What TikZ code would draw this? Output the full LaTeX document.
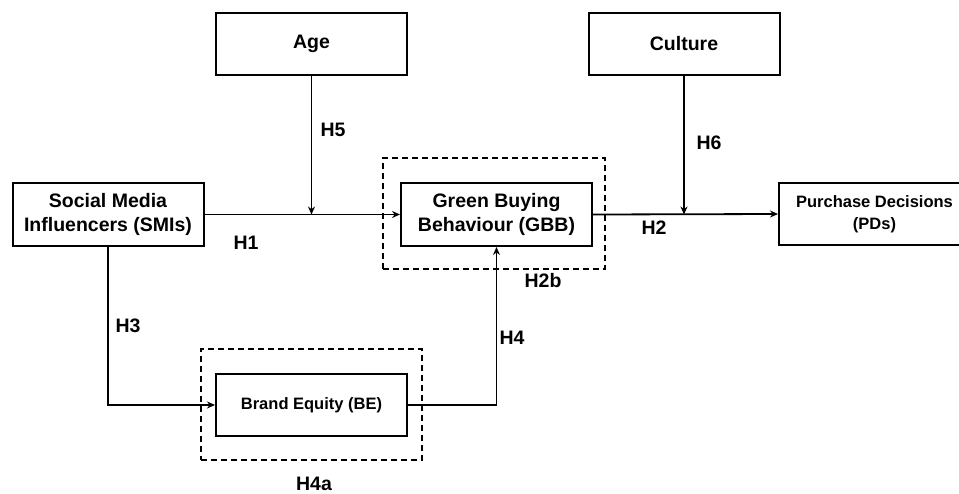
\documentclass[tikz,border=0pt]{standalone}
\usepackage{fontspec}
\setmainfont{Liberation Sans}
\usetikzlibrary{arrows.meta}
\begin{document}
\begin{tikzpicture}[x=1pt,y=-1pt,
  box/.style={draw,line width=2pt,minimum width=191pt,minimum height=62pt,inner sep=0pt,align=center,font=\fontsize{19.5}{24}\selectfont\bfseries},
  smallbox/.style={box,font=\fontsize{16.5}{22}\selectfont\bfseries},
  conn/.style={line width=1.8pt,-{Stealth[length=8pt,width=7pt]}},
  dashbox/.style={draw,line width=1.6pt,dash pattern=on 6pt off 4pt},
  lab/.style={font=\fontsize{19.5}{23}\selectfont\bfseries,inner sep=0pt}]
\useasboundingbox (0,0) rectangle (959,493);
\node[box,minimum height=63pt] (smi) at (108,214.5) {Social Media\\Influencers (SMIs)};
\node[box] (age) at (311.5,44) {Age};
\node[box] (cul) at (684,44) {Culture};
\node[box,minimum height=63pt] (gbb) at (496.5,214.5) {Green Buying\\Behaviour (GBB)};
\node[smallbox] (pd) at (874.5,214) {Purchase Decisions\\(PDs)};
\node[smallbox] (be) at (311.5,405) {Brand Equity (BE)};
\node[dashbox,minimum width=222pt,minimum height=111pt,inner sep=0pt] (dg) at (494,213.5) {};
\node[dashbox,minimum width=221pt,minimum height=111pt,inner sep=0pt] (db) at (311.5,404.5) {};
\coordinate (j1) at (age.south |- smi.east);
\coordinate (j2) at (cul.south |- gbb.east);
\coordinate (c1) at (smi.south |- be.west);
\coordinate (c2) at (gbb.south |- be.east);
\draw[conn] (smi.east) -- (gbb.west);
\draw[conn] (age.south) -- (j1);
\draw[conn] (gbb.east) -- (pd.west);
\draw[conn] (cul.south) -- (j2);
\draw[conn] (smi.south) -- (c1) -- (be.west);
\draw[conn] (be.east) -- (c2) -- (gbb.south);
\node[lab] (h1) at (246,243) {H1};
\node[lab] (h5) at (333,130) {H5};
\node[lab] (h6) at (709,143) {H6};
\node[lab] (h2) at (654,228) {H2};
\node[lab] (h3) at (128,326) {H3};
\node[lab] (h4) at (512,338) {H4};
\node[lab] (h2b) at (543,281) {H2b};
\node[lab] (h4a) at (314,484) {H4a};
\end{tikzpicture}
\end{document}
